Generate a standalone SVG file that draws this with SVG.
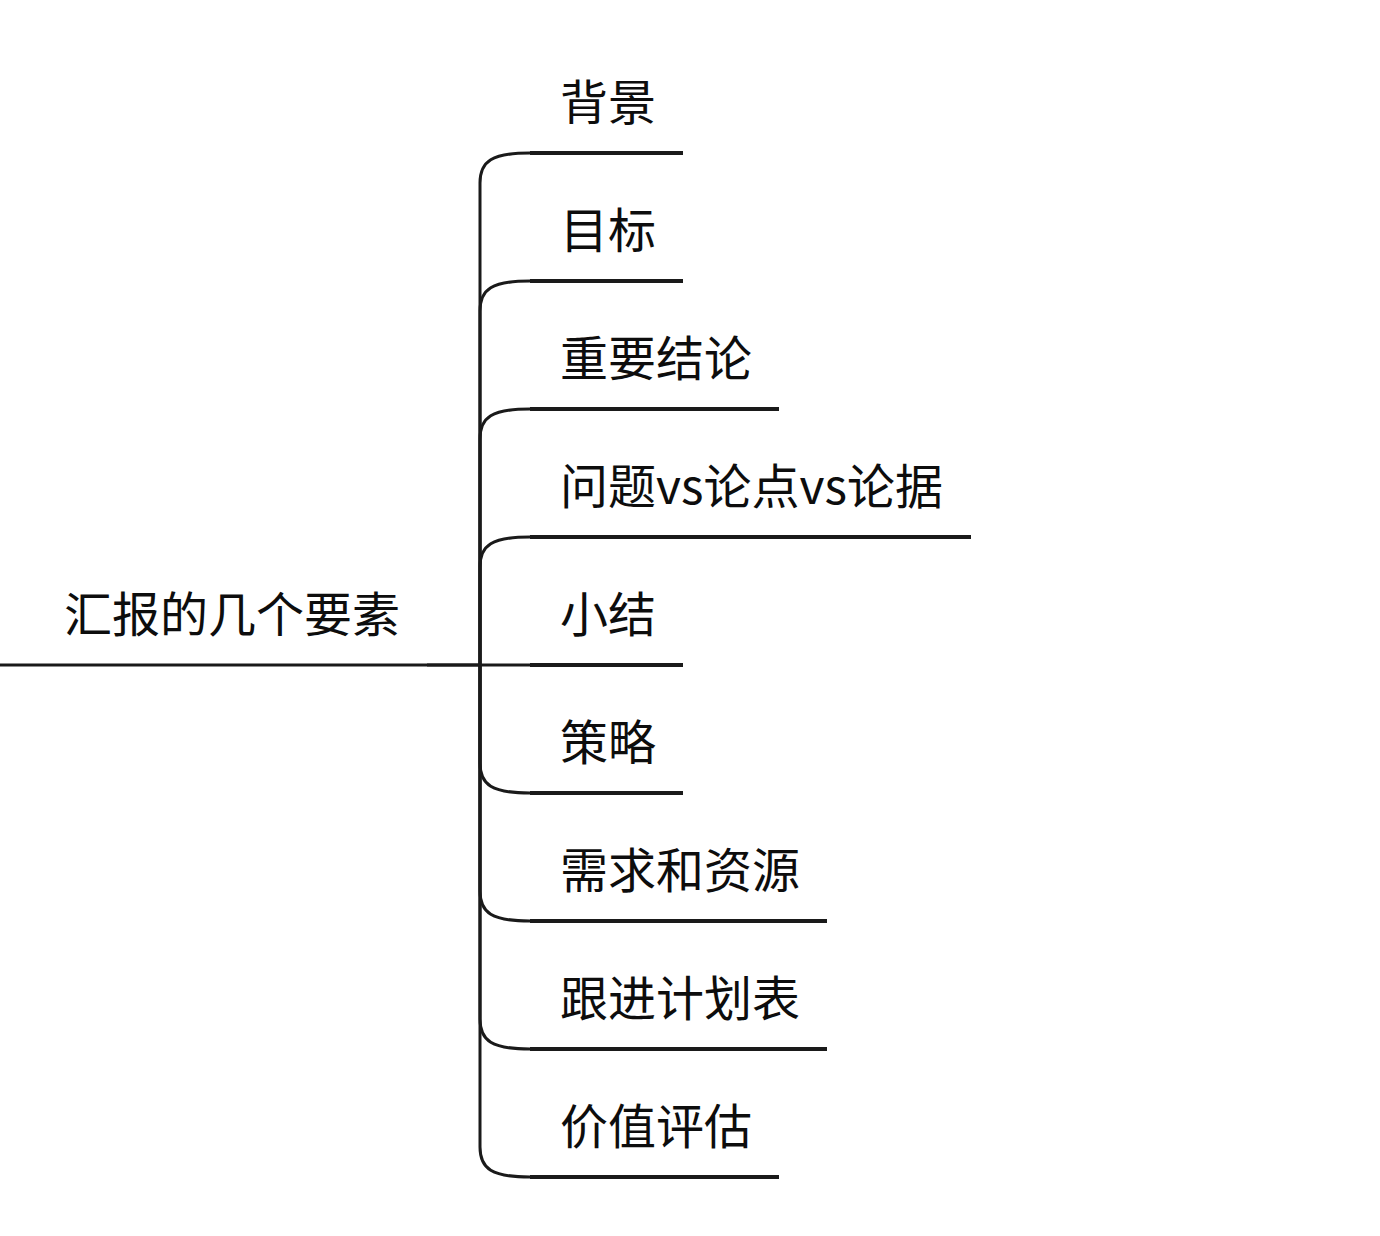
<svg xmlns="http://www.w3.org/2000/svg" width="1380" height="1236" viewBox="0 0 1380 1236">
<style>
.t{font-family:"Noto Sans CJK SC","Noto Sans",sans-serif;font-size:48px;fill:#0d0d0d}
.u{stroke:#1a1a1a;stroke-width:4;fill:none}
.c{stroke:#1a1a1a;stroke-width:3;fill:none}
</style>
<rect width="1380" height="1236" fill="#ffffff"/>
<g id="connectors">
<path class="c" d="M427,665 L480,665" style="stroke-width:3.5"/>
<path class="c" d="M480,665 L480,183 C480,161 492,153 530,153"/>
<path class="c" d="M480,665 L480,311 C480,289 492,281 530,281"/>
<path class="c" d="M480,665 L480,439 C480,417 492,409 530,409"/>
<path class="c" d="M480,665 L480,567 C480,545 492,537 530,537"/>
<path class="c" d="M480,665 L530,665"/>
<path class="c" d="M480,665 L480,763 C480,785 492,793 530,793"/>
<path class="c" d="M480,665 L480,891 C480,913 492,921 530,921"/>
<path class="c" d="M480,665 L480,1019 C480,1041 492,1049 530,1049"/>
<path class="c" d="M480,665 L480,1147 C480,1169 492,1177 530,1177"/>
</g>
<g id="root">
<text class="t" x="64" y="632">汇报的几个要素</text>
<path class="u" d="M0,665 L427,665" style="stroke-width:3.2"/>
</g>
<g id="n1"><text class="t" x="560" y="120">背景</text><path class="u" d="M530,153 L683,153"/></g>
<g id="n2"><text class="t" x="560" y="248">目标</text><path class="u" d="M530,281 L683,281"/></g>
<g id="n3"><text class="t" x="560" y="376">重要结论</text><path class="u" d="M530,409 L779,409"/></g>
<g id="n4"><text class="t" x="560" y="504">问题vs论点vs论据</text><path class="u" d="M530,537 L971,537"/></g>
<g id="n5"><text class="t" x="560" y="632">小结</text><path class="u" d="M530,665 L683,665"/></g>
<g id="n6"><text class="t" x="560" y="760">策略</text><path class="u" d="M530,793 L683,793"/></g>
<g id="n7"><text class="t" x="560" y="888">需求和资源</text><path class="u" d="M530,921 L827,921"/></g>
<g id="n8"><text class="t" x="560" y="1016">跟进计划表</text><path class="u" d="M530,1049 L827,1049"/></g>
<g id="n9"><text class="t" x="560" y="1144">价值评估</text><path class="u" d="M530,1177 L779,1177"/></g>
</svg>
